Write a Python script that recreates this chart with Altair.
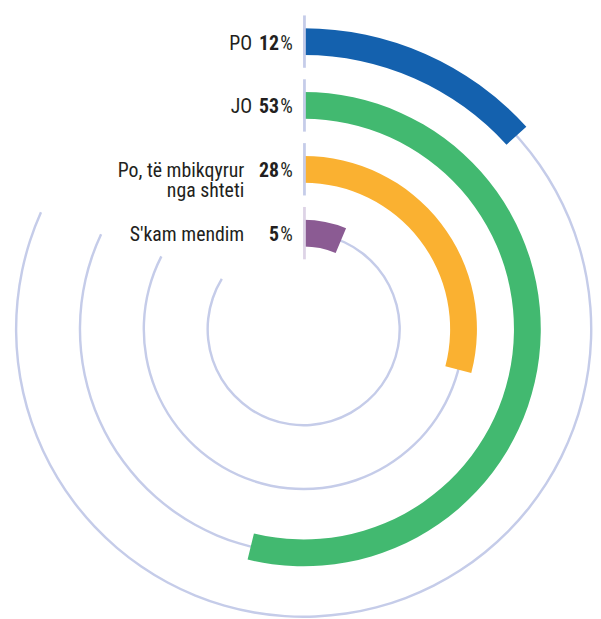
import math
import altair as alt
import pandas as pd

# ---- data ----
CATEGORIES = ["PO", "JO", "Po, të mbikqyrur\nnga shteti", "S'kam mendim"]
VALUES = [12, 53, 28, 5]
RING = [4, 3, 2, 1]  # ring index, outer -> inner
COLORS = ["#1461ae", "#42b970", "#fab131", "#8b5b93"]

df = pd.DataFrame({"name": CATEGORIES, "value": VALUES, "ring": RING, "color": COLORS})

# ---- style ----
FONT = "Liberation Sans Narrow, Roboto Condensed, DejaVu Sans Condensed, sans-serif"
TXT = "#231f20"
LAV = "#c5cce9"
LAV_PINK = "#ddd3e6"
CX, CY = 298.7, 321.3
TRACK_END_DEG = {4: 294.0, 3: 295.1, 2: 297.1, 1: 301.5}

theta_scale = alt.Scale(domain=[0, 100], range=[5.0 * math.pi / 180, 361.0 * math.pi / 180])
radius_scale = alt.Scale(type="linear", domain=[0, 4], range=[32.5, 290.5], zero=False, nice=False)
y_scale = alt.Scale(type="linear", domain=[0, 4], range=[CY - 32.5, CY - 290.5], zero=False, nice=False)

base = alt.Chart(df)

layers = []

# background tracks
for ring, end_deg in TRACK_END_DEG.items():
    layers.append(
        base.transform_filter(f"datum.ring == {ring}")
        .transform_calculate(r_out="datum.ring + 0.019", r_in="datum.ring - 0.019")
        .mark_arc(color=LAV)
        .encode(
            theta=alt.value(0),
            theta2=alt.value(end_deg * math.pi / 180),
            radius=alt.Radius("r_out:Q", scale=radius_scale),
            radius2="r_in:Q",
            x=alt.value(CX),
            y=alt.value(CY),
        )
    )

# bars
layers.append(
    base.transform_calculate(r_out="datum.ring + 0.21", r_in="datum.ring - 0.21")
    .mark_arc()
    .encode(
        theta=alt.Theta("value:Q", scale=theta_scale, stack=None),
        theta2=alt.value(0),
        radius=alt.Radius("r_out:Q", scale=radius_scale),
        radius2="r_in:Q",
        color=alt.Color("color:N", scale=None),
        x=alt.value(CX),
        y=alt.value(CY),
    )
)

# short vertical ticks at 12 o'clock
layers.append(
    base.transform_calculate(y_top="datum.ring + 0.41", y_bot="datum.ring - 0.41")
    .mark_rule(strokeWidth=2.8)
    .encode(
        x=alt.value(CX + 0.8),
        y=alt.Y("y_top:Q", scale=y_scale, axis=None),
        y2="y_bot:Q",
        color=alt.condition("datum.ring == 1", alt.value(LAV_PINK), alt.value(LAV)),
    )
)

txt = base.encode(
    theta=alt.value(0),
    radius=alt.Radius("ring:Q", scale=radius_scale),
    x=alt.value(CX),
    y=alt.value(CY),
)
common = dict(align="right", baseline="middle", font=FONT, fontSize=20, color=TXT, dy=2)

layers.append(txt.mark_text(dx=-11, **common).encode(text=alt.value("%")))
layers.append(txt.mark_text(dx=-25, fontWeight="bold", **common).encode(text=alt.Text("value:Q", format="d")))
layers.append(txt.transform_filter("datum.ring >= 3").mark_text(dx=-52, **common).encode(text="name:N"))
layers.append(
    txt.transform_filter("datum.ring <= 2")
    .mark_text(dx=-60, lineBreak="\n", lineHeight=19.5, **common)
    .encode(text="name:N")
)

chart = (
    alt.layer(*layers)
    .properties(width=585, height=611, padding=0, background="white")
    .configure_view(stroke=None)
)

chart.save("out.html", embed_options={"renderer": "svg", "actions": False})
